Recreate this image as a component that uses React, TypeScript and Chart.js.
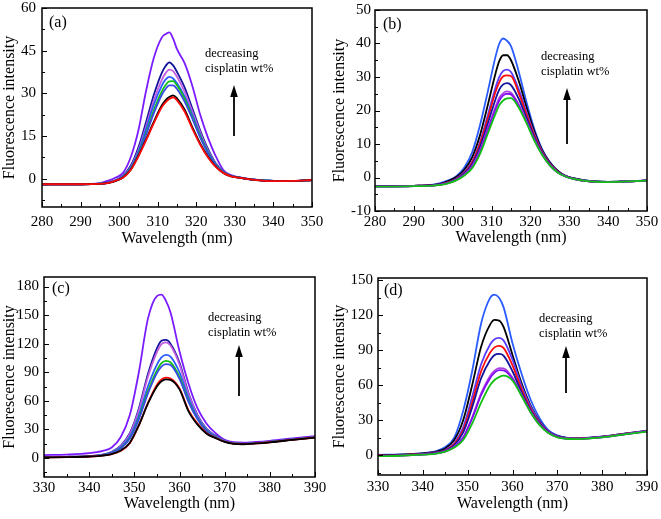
import React, { useEffect, useRef } from 'react';
import { Chart, registerables } from 'chart.js';

Chart.register(...registerables);

const FONT = '"Liberation Serif", "Times New Roman", Times, serif';

// ---------- DATA ----------
const WL_AB = [280, 285, 290, 295, 297, 299, 301, 303, 305, 307, 309, 311, 312, 313, 314, 315, 317, 319, 321, 323, 325, 327, 329, 331, 334, 337, 340, 345, 350];
const WL_CD = [330, 335, 340, 343, 345, 347, 349, 351, 353, 355, 356, 357, 358, 360, 362, 364, 366, 368, 370, 372, 374, 377, 380, 385, 390];

const A_VIOLET = [-2.1, -2.0, -2.0, -1.6, -0.8, 0.3, 2.0, 7.5, 17.0, 31.0, 42.5, 49.5, 50.8, 51.4, 49.2, 45.5, 40.5, 32.5, 22.5, 14.5, 8.0, 3.0, 1.2, 0.5, -0.2, -0.6, -0.8, -0.8, -0.5];
const A_NAVY = [-2.1, -2.0, -2.0, -1.8, -1.4, -0.6, 1.0, 4.5, 11.0, 20.0, 29.5, 37.0, 39.5, 40.9, 39.8, 37.5, 32.0, 24.5, 17.0, 10.5, 5.5, 2.5, 1.0, 0.4, -0.3, -0.6, -0.8, -0.8, -0.5];
const A_MAGENTA = [-2.1, -2.0, -2.0, -1.8, -1.5, -0.7, 0.8, 4.0, 10.0, 18.5, 27.5, 34.5, 37.0, 38.3, 37.8, 35.8, 30.5, 23.5, 16.3, 10.0, 5.3, 2.4, 1.0, 0.4, -0.3, -0.6, -0.8, -0.8, -0.5];
const A_ROYAL = [-2.1, -2.0, -2.0, -1.8, -1.5, -0.7, 0.7, 3.8, 9.5, 17.5, 26.0, 32.5, 34.8, 35.8, 35.2, 33.5, 28.8, 22.3, 15.5, 9.6, 5.1, 2.3, 0.9, 0.4, -0.3, -0.6, -0.8, -0.8, -0.5];
const A_GREEN = [-2.1, -2.0, -2.0, -1.8, -1.5, -0.8, 0.6, 3.5, 8.8, 16.0, 24.0, 30.5, 32.8, 34.2, 34.3, 32.8, 28.0, 21.5, 15.0, 9.3, 5.0, 2.3, 0.9, 0.4, -0.3, -0.6, -0.8, -0.8, -0.5];
const A_BLUE = [-2.1, -2.0, -2.0, -1.8, -1.5, -0.8, 0.6, 3.4, 8.5, 15.5, 23.0, 29.3, 31.5, 32.8, 32.8, 31.5, 27.0, 21.0, 14.5, 9.0, 4.8, 2.2, 0.9, 0.4, -0.3, -0.6, -0.8, -0.8, -0.5];
const A_BLACK = [-2.0, -2.0, -2.0, -1.9, -1.6, -0.9, 0.4, 3.1, 8.0, 13.8, 20.0, 25.6, 27.5, 28.7, 29.3, 28.2, 24.2, 18.0, 12.4, 7.8, 4.3, 2.0, 0.8, 0.3, -0.3, -0.7, -0.9, -0.8, -0.5];
const A_RED = [-2.0, -2.0, -2.0, -1.9, -1.6, -0.8, 0.3, 3.0, 7.8, 13.5, 19.5, 25.0, 26.8, 28.0, 28.6, 27.5, 23.5, 17.5, 12.0, 7.5, 4.2, 2.0, 0.8, 0.3, -0.3, -0.7, -0.9, -0.8, -0.5];

const B_BLUE = [-2.6, -2.6, -2.5, -2.1, -1.6, -0.8, 0.5, 3.0, 7.5, 15.5, 25.5, 36.0, 40.0, 41.5, 40.8, 39.2, 31.5, 22.5, 14.5, 8.5, 4.6, 2.0, 0.5, -0.2, -0.9, -1.2, -1.3, -1.1, -0.9];
const B_BLACK = [-2.6, -2.6, -2.5, -2.2, -1.8, -1.0, 0.2, 2.3, 6.0, 12.5, 21.5, 31.0, 34.8, 36.5, 36.5, 35.0, 28.8, 21.0, 13.8, 8.2, 4.5, 2.0, 0.5, -0.2, -0.9, -1.2, -1.3, -1.1, -0.9];
const B_VIOLET = [-2.7, -2.7, -2.6, -2.3, -2.0, -1.4, -0.2, 1.6, 4.8, 10.5, 18.5, 26.8, 30.0, 31.8, 32.2, 31.5, 26.3, 19.5, 13.0, 7.8, 4.2, 1.8, 0.4, -0.3, -1.0, -1.3, -1.4, -1.2, -0.9];
const B_RED = [-2.6, -2.6, -2.5, -2.3, -2.0, -1.4, -0.3, 1.4, 4.5, 10.0, 17.5, 25.5, 28.5, 30.2, 30.5, 30.3, 25.2, 18.8, 12.6, 7.6, 4.1, 1.8, 0.4, -0.3, -1.0, -1.3, -1.4, -1.2, -0.9];
const B_NAVY = [-2.6, -2.6, -2.5, -2.3, -2.0, -1.5, -0.4, 1.2, 4.0, 9.0, 16.0, 23.3, 26.3, 27.8, 28.2, 27.6, 23.5, 17.8, 12.0, 7.3, 3.9, 1.7, 0.4, -0.3, -1.0, -1.3, -1.4, -1.2, -0.9];
const B_MAGENTA = [-2.7, -2.7, -2.6, -2.4, -2.1, -1.6, -0.6, 0.9, 3.4, 8.0, 14.5, 21.0, 23.8, 25.2, 25.7, 25.3, 21.8, 16.8, 11.4, 7.0, 3.7, 1.6, 0.3, -0.4, -1.0, -1.3, -1.4, -1.2, -0.9];
const B_PURPLE = [-2.7, -2.7, -2.6, -2.4, -2.1, -1.6, -0.7, 0.8, 3.2, 7.6, 14.0, 20.3, 23.0, 24.5, 25.0, 24.8, 21.3, 16.5, 11.2, 6.9, 3.6, 1.5, 0.3, -0.4, -1.0, -1.3, -1.4, -1.2, -0.9];
const B_GREEN = [-2.7, -2.7, -2.6, -2.4, -2.2, -1.7, -0.8, 0.6, 2.8, 7.0, 13.0, 19.0, 21.6, 23.0, 23.6, 23.7, 20.8, 16.2, 11.0, 6.8, 3.6, 1.5, 0.3, -0.4, -1.0, -1.3, -1.4, -1.2, -0.9];

const C_VIOLET = [3.0, 3.5, 5.0, 7.5, 11.0, 22.0, 45.0, 90.0, 146.0, 170.0, 171.5, 165.0, 153.0, 112.0, 78.0, 52.0, 36.0, 26.0, 19.0, 16.5, 16.0, 16.8, 18.0, 20.5, 23.0];
const C_NAVY = [1.0, 1.2, 2.0, 3.5, 6.5, 13.0, 26.0, 52.0, 88.0, 115.0, 123.0, 124.0, 120.0, 100.0, 68.0, 45.0, 30.5, 23.5, 18.0, 15.5, 15.0, 15.8, 17.0, 19.5, 22.0];
const C_ORCHID = [1.0, 1.2, 2.0, 3.4, 6.2, 12.5, 25.0, 50.0, 85.0, 111.0, 119.5, 121.4, 118.0, 98.0, 67.0, 44.5, 30.0, 23.0, 18.0, 15.5, 15.0, 15.8, 17.0, 19.5, 22.0];
const C_ROYAL = [0.8, 1.0, 1.8, 3.2, 5.8, 11.5, 22.5, 45.0, 75.0, 98.0, 105.5, 108.3, 106.5, 90.0, 63.0, 42.5, 29.5, 22.5, 17.5, 15.3, 14.8, 15.6, 16.8, 19.3, 21.8];
const C_GREEN = [0.7, 1.0, 1.7, 3.0, 5.5, 10.5, 21.0, 42.0, 70.0, 92.0, 99.5, 102.0, 100.5, 85.0, 60.0, 41.0, 28.5, 22.0, 17.3, 15.2, 14.7, 15.5, 16.7, 19.2, 21.7];
const C_BLUE = [0.7, 1.0, 1.7, 3.0, 5.3, 10.2, 20.5, 40.5, 67.5, 89.0, 96.0, 98.5, 97.5, 83.0, 59.0, 40.5, 28.0, 21.8, 17.2, 15.2, 14.7, 15.5, 16.7, 19.2, 21.7];
const C_RED = [0.5, 0.8, 1.5, 2.5, 4.0, 7.5, 15.5, 34.0, 57.5, 77.0, 82.5, 84.3, 83.5, 73.0, 50.0, 36.0, 26.0, 21.0, 17.0, 15.0, 14.5, 15.3, 16.5, 19.0, 21.5];
const C_BLACK = [0.5, 0.8, 1.5, 2.5, 4.1, 7.8, 16.0, 34.5, 57.0, 75.0, 80.5, 82.6, 82.0, 72.0, 49.0, 35.0, 25.5, 20.8, 16.8, 14.8, 14.4, 15.2, 16.4, 18.9, 21.4];

const D_BLUE = [0.3, 0.6, 1.8, 3.5, 7.0, 15.0, 38.0, 72.0, 113.0, 135.0, 137.8, 135.0, 127.0, 96.0, 70.0, 48.0, 32.0, 21.5, 17.0, 15.0, 14.5, 15.0, 16.0, 18.5, 21.0];
const D_BLACK = [0.2, 0.5, 1.5, 3.0, 5.8, 13.0, 30.0, 60.0, 93.0, 112.0, 116.0, 115.5, 110.0, 86.0, 62.0, 43.0, 29.5, 20.5, 16.5, 14.8, 14.3, 14.9, 15.9, 18.4, 20.9];
const D_VIOLET = [-0.3, 0.0, 1.0, 2.3, 4.5, 10.5, 24.0, 50.0, 78.0, 95.0, 99.5, 100.7, 98.5, 82.0, 60.0, 42.0, 29.0, 20.5, 16.3, 14.6, 14.2, 14.8, 15.8, 18.3, 20.8];
const D_RED = [-0.2, 0.1, 1.0, 2.2, 4.0, 9.5, 21.5, 45.0, 72.0, 88.0, 92.5, 93.8, 92.0, 77.0, 57.0, 40.0, 28.0, 20.0, 16.0, 14.5, 14.1, 14.7, 15.7, 18.2, 20.7];
const D_NAVY = [-0.3, 0.0, 0.9, 2.0, 3.8, 8.5, 19.5, 41.0, 66.0, 81.5, 86.0, 86.9, 85.5, 72.0, 54.0, 38.5, 27.3, 19.8, 15.8, 14.4, 14.0, 14.6, 15.6, 18.1, 20.6];
const D_MAGENTA = [-0.6, -0.3, 0.6, 1.6, 3.3, 7.3, 15.5, 32.5, 53.0, 68.0, 72.5, 74.7, 74.5, 66.5, 52.0, 37.5, 26.5, 19.3, 15.6, 14.3, 13.9, 14.5, 15.5, 18.0, 20.5];
const D_PURPLE = [-0.7, -0.4, 0.5, 1.5, 3.2, 7.0, 15.0, 31.5, 51.5, 66.0, 70.8, 73.0, 72.8, 65.5, 51.5, 37.3, 26.3, 19.2, 15.5, 14.2, 13.8, 14.4, 15.4, 17.9, 20.4];
const D_GREEN = [-0.8, -0.5, 0.4, 1.3, 3.0, 6.5, 13.0, 27.0, 45.0, 60.0, 64.5, 67.0, 68.2, 64.0, 51.0, 37.0, 26.0, 19.0, 15.3, 14.1, 13.7, 14.3, 15.3, 17.8, 20.3];

const Y_TICKS_A = [0, 15, 30, 45, 60];
const Y_TICKS_B = [-10, 0, 10, 20, 30, 40, 50];
const Y_TICKS_C = [0, 30, 60, 90, 120, 150, 180];
const Y_TICKS_D = [0, 30, 60, 90, 120, 150];

const PANEL_LABELS = ['(a)', '(b)', '(c)', '(d)'];
const NOTE_LINE1 = 'decreasing';
const NOTE_LINE2 = 'cisplatin wt%';
const X_TITLE = 'Wavelength (nm)';
const Y_TITLE = 'Fluorescence intensity';

// ---------- COLORS ----------
const COL = {
  violet: '#7a1cff',
  navy: '#12129c',
  magenta: '#c25ee0',
  royal: '#2a5cff',
  green: '#12c012',
  blue: '#3a4ae6',
  black: '#000000',
  red: '#ff0a0a',
  vblue: '#5a3cff',
  mag2: '#b040e0',
  purple: '#8010f0',
};

type Series = { color: string; values: number[] };
type PanelCfg = {
  label: string;
  left: number; top: number; w: number; h: number;
  padTop: number; padRight: number; yWidth: number; xHeight: number;
  xs: number[]; xMin: number; xMax: number; xStep: number; xMinor: number;
  yMin: number; yMax: number; yTicks: number[]; yMinor: number;
  xTickPad: number; yTickPad: number; xTitlePad: number; yTitlePad: number;
  tickSize: number;
  labelPos: [number, number];
  notePos: [number, number, number];
  arrow: [number, number, number];
  series: Series[];
};

const PANELS: PanelCfg[] = [
  {
    label: PANEL_LABELS[0], left: 0, top: 0, w: 330, h: 260,
    padTop: 8, padRight: 18, yWidth: 42, xHeight: 53,
    xs: WL_AB, xMin: 280, xMax: 350, xStep: 10, xMinor: 5,
    yMin: -10, yMax: 60, yTicks: Y_TICKS_A, yMinor: 7.5,
    xTickPad: 6, yTickPad: 6, xTitlePad: 12, yTitlePad: 0, tickSize: 15,
    labelPos: [7, 19], notePos: [163, 49, 64], arrow: [192, 77, 128],
    series: [
      { color: COL.red, values: A_RED },
      { color: COL.black, values: A_BLACK },
      { color: COL.blue, values: A_BLUE },
      { color: COL.green, values: A_GREEN },
      { color: COL.royal, values: A_ROYAL },
      { color: COL.magenta, values: A_MAGENTA },
      { color: COL.navy, values: A_NAVY },
      { color: COL.violet, values: A_VIOLET },
    ],
  },
  {
    label: PANEL_LABELS[1], left: 330, top: 0, w: 331, h: 260,
    padTop: 10, padRight: 14, yWidth: 45, xHeight: 49,
    xs: WL_AB, xMin: 280, xMax: 350, xStep: 10, xMinor: 5,
    yMin: -10, yMax: 50, yTicks: Y_TICKS_B, yMinor: 5,
    xTickPad: 2, yTickPad: 4, xTitlePad: 13, yTitlePad: 0, tickSize: 15,
    labelPos: [8, 19], notePos: [166, 50, 65], arrow: [192, 78, 134],
    series: [
      { color: COL.green, values: B_GREEN },
      { color: COL.purple, values: B_PURPLE },
      { color: COL.mag2, values: B_MAGENTA },
      { color: COL.navy, values: B_NAVY },
      { color: COL.red, values: B_RED },
      { color: COL.vblue, values: B_VIOLET },
      { color: COL.black, values: B_BLACK },
      { color: COL.royal, values: B_BLUE },
    ],
  },
  {
    label: PANEL_LABELS[2], left: 0, top: 260, w: 330, h: 259,
    padTop: 17, padRight: 15, yWidth: 44, xHeight: 42,
    xs: WL_CD, xMin: 330, xMax: 390, xStep: 10, xMinor: 5,
    yMin: -20, yMax: 190, yTicks: Y_TICKS_C, yMinor: 15,
    xTickPad: 2, yTickPad: 5, xTitlePad: 6, yTitlePad: 0, tickSize: 15,
    labelPos: [8, 16], notePos: [164, 44, 59], arrow: [195, 68, 119],
    series: [
      { color: COL.black, values: C_BLACK },
      { color: COL.red, values: C_RED },
      { color: COL.blue, values: C_BLUE },
      { color: COL.green, values: C_GREEN },
      { color: COL.royal, values: C_ROYAL },
      { color: COL.magenta, values: C_ORCHID },
      { color: COL.navy, values: C_NAVY },
      { color: COL.violet, values: C_VIOLET },
    ],
  },
  {
    label: PANEL_LABELS[3], left: 330, top: 260, w: 331, h: 259,
    padTop: 18, padRight: 14, yWidth: 48, xHeight: 44,
    xs: WL_CD, xMin: 330, xMax: 390, xStep: 10, xMinor: 5,
    yMin: -17, yMax: 152, yTicks: Y_TICKS_D, yMinor: 15,
    xTickPad: 3, yTickPad: 5, xTitlePad: 6, yTitlePad: 0, tickSize: 15,
    labelPos: [6, 17], notePos: [161, 44, 59], arrow: [188, 68, 115],
    series: [
      { color: COL.green, values: D_GREEN },
      { color: COL.purple, values: D_PURPLE },
      { color: COL.mag2, values: D_MAGENTA },
      { color: COL.navy, values: D_NAVY },
      { color: COL.red, values: D_RED },
      { color: COL.vblue, values: D_VIOLET },
      { color: COL.black, values: D_BLACK },
      { color: COL.royal, values: D_BLUE },
    ],
  },
];

function isMultiple(v: number, step: number) {
  const r = v / step;
  return Math.abs(r - Math.round(r)) < 1e-6;
}

function makeFramePlugin(cfg: PanelCfg) {
  return {
    id: 'frameAndNotes',
    afterDraw(chart: any) {
      const { ctx, chartArea: a } = chart;
      const xs = chart.scales.x;
      const ys = chart.scales.y;
      ctx.save();
      ctx.strokeStyle = '#000';
      ctx.lineWidth = 1;
      for (let v = cfg.xMin; v <= cfg.xMax + 1e-9; v += cfg.xMinor) {
        const px = Math.round(xs.getPixelForValue(v)) + 0.5;
        const L = isMultiple(v - cfg.xMin, cfg.xStep) ? 5 : 3;
        ctx.beginPath();
        ctx.moveTo(px, a.bottom);
        ctx.lineTo(px, a.bottom - L);
        ctx.stroke();
      }
      const base = cfg.yTicks[0];
      const majorStep = cfg.yTicks[1] - cfg.yTicks[0];
      let start = base;
      while (start - cfg.yMinor >= cfg.yMin - 1e-9) start -= cfg.yMinor;
      for (let v = start; v <= cfg.yMax + 1e-9; v += cfg.yMinor) {
        const py = Math.round(ys.getPixelForValue(v)) + 0.5;
        const L = isMultiple(v - base, majorStep) ? 5 : 3;
        ctx.beginPath();
        ctx.moveTo(a.left, py);
        ctx.lineTo(a.left + L, py);
        ctx.stroke();
      }
      ctx.lineWidth = 1.5;
      ctx.strokeRect(a.left, a.top, a.right - a.left, a.bottom - a.top);
      ctx.fillStyle = '#000';
      ctx.textBaseline = 'alphabetic';
      ctx.textAlign = 'left';
      ctx.font = `16px ${FONT}`;
      ctx.fillText(cfg.label, a.left + cfg.labelPos[0], a.top + cfg.labelPos[1]);
      ctx.font = `12.5px ${FONT}`;
      ctx.fillText(NOTE_LINE1, a.left + cfg.notePos[0], a.top + cfg.notePos[1]);
      ctx.fillText(NOTE_LINE2, a.left + cfg.notePos[0], a.top + cfg.notePos[2]);
      const ax = a.left + cfg.arrow[0];
      const tip = a.top + cfg.arrow[1];
      const bot = a.top + cfg.arrow[2];
      ctx.lineWidth = 1.8;
      ctx.beginPath();
      ctx.moveTo(ax, bot);
      ctx.lineTo(ax, tip + 8);
      ctx.stroke();
      ctx.beginPath();
      ctx.moveTo(ax, tip);
      ctx.lineTo(ax - 3.8, tip + 12);
      ctx.lineTo(ax + 3.8, tip + 12);
      ctx.closePath();
      ctx.fill();
      ctx.restore();
    },
  };
}

function PanelChart({ cfg }: { cfg: PanelCfg }) {
  const ref = useRef<HTMLCanvasElement | null>(null);
  useEffect(() => {
    const canvas = ref.current;
    if (!canvas) return;
    const tickFont = { family: FONT, size: cfg.tickSize };
    const titleFont = { family: FONT, size: 16 };
    const chart = new Chart(canvas, {
      type: 'line',
      data: {
        datasets: cfg.series.map((s) => ({
          data: cfg.xs.map((x, i) => ({ x, y: s.values[i] })),
          borderColor: s.color,
          backgroundColor: s.color,
          borderWidth: 1.8,
          pointRadius: 0,
          fill: false,
          cubicInterpolationMode: 'monotone' as const,
        })),
      },
      options: {
        responsive: false,
        maintainAspectRatio: false,
        animation: false,
        events: [],
        devicePixelRatio: 1,
        layout: { padding: { top: cfg.padTop, right: cfg.padRight, left: 0, bottom: 0 } },
        plugins: { legend: { display: false }, tooltip: { enabled: false } },
        scales: {
          x: {
            type: 'linear',
            min: cfg.xMin,
            max: cfg.xMax,
            ticks: { stepSize: cfg.xStep, color: '#000', font: tickFont, padding: cfg.xTickPad, maxRotation: 0, autoSkip: false },
            grid: { display: false, drawTicks: false },
            border: { display: false },
            title: { display: true, text: X_TITLE, color: '#000', font: titleFont, padding: { top: 0, bottom: cfg.xTitlePad } },
            afterFit: (s: any) => {
              s.height = cfg.xHeight;
              s.paddingLeft = 0;
              s.paddingRight = 0;
            },
          },
          y: {
            type: 'linear',
            min: cfg.yMin,
            max: cfg.yMax,
            afterBuildTicks: (s: any) => {
              s.ticks = cfg.yTicks.map((v) => ({ value: v }));
            },
            ticks: { color: '#000', font: tickFont, padding: cfg.yTickPad },
            grid: { display: false, drawTicks: false },
            border: { display: false },
            title: { display: true, text: Y_TITLE, color: '#000', font: titleFont, padding: { top: cfg.yTitlePad, bottom: 0 } },
            afterFit: (s: any) => {
              s.width = cfg.yWidth;
              s.paddingTop = 0;
              s.paddingBottom = 0;
            },
          },
        },
      } as any,
      plugins: [makeFramePlugin(cfg)],
    });
    return () => chart.destroy();
  }, [cfg]);
  return (
    <canvas
      ref={ref}
      width={cfg.w}
      height={cfg.h}
      style={{ position: 'absolute', left: cfg.left, top: cfg.top, width: cfg.w, height: cfg.h, display: 'block' }}
    />
  );
}

export default function App() {
  return (
    <div style={{ position: 'absolute', left: 0, top: 0, width: 661, height: 519, background: '#fff', overflow: 'hidden' }}>
      {PANELS.map((p) => (
        <PanelChart key={p.label} cfg={p} />
      ))}
    </div>
  );
}
